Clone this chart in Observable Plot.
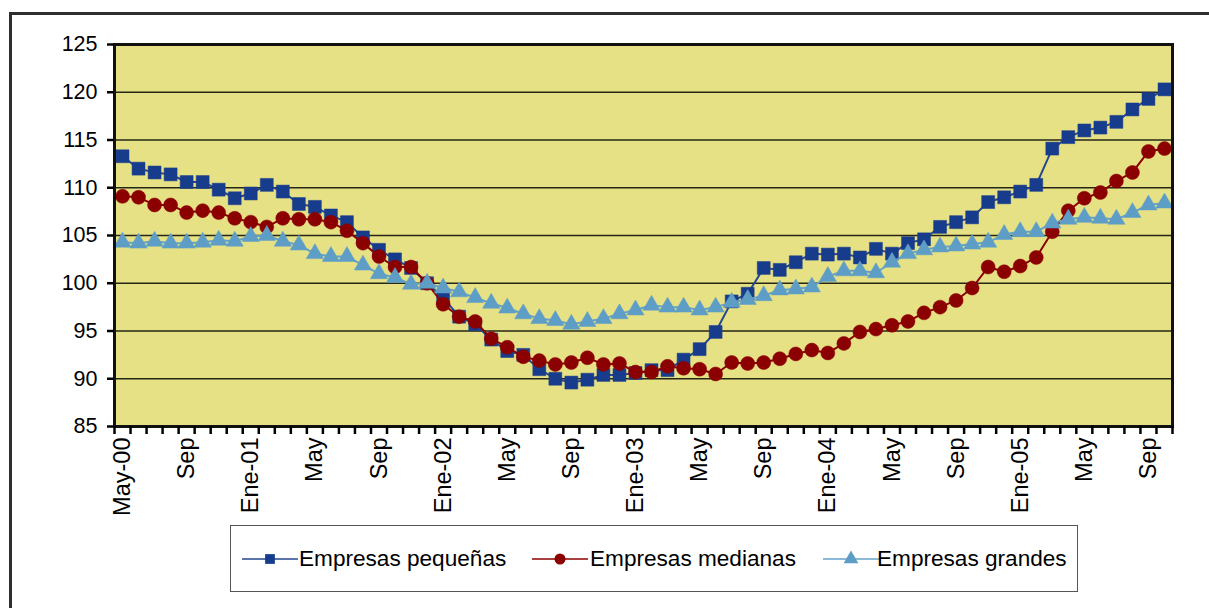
<!DOCTYPE html>
<html>
<head>
<meta charset="utf-8">
<script src="https://cdn.jsdelivr.net/npm/d3@7"></script>
<script src="https://cdn.jsdelivr.net/npm/@observablehq/plot@0.6"></script>
<style>
  html, body { margin: 0; padding: 0; background: #fff; }
  #wrap { position: relative; width: 1209px; height: 608px; overflow: hidden; font-family: "Liberation Sans", Arial, sans-serif; }
  #outer { position: absolute; left: 9px; top: 12px; width: 1260px; height: 660px; border-left: 3px solid #2e2e2e; border-top: 3px solid #2e2e2e; }
  #chart { position: absolute; left: 0; top: 0; }
  #legend { position: absolute; left: 230px; top: 525px; width: 846px; height: 65px; border: 1.5px solid #555; background: #fff; }
  .item { position: absolute; top: 0; height: 65px; display: flex; align-items: center; font-size: 22.6px; color: #000; }
  .item svg { display: block; }
</style>
</head>
<body>
<div id="wrap">
  <div id="outer"></div>
  <div id="chart"></div>
  <div id="legend"></div>
</div>
<script>
const months = [
  "May-00","Jun-00","Jul-00","Ago-00","Sep-00","Oct-00","Nov-00","Dic-00",
  "Ene-01","Feb-01","Mar-01","Abr-01","May-01","Jun-01","Jul-01","Ago-01","Sep-01","Oct-01","Nov-01","Dic-01",
  "Ene-02","Feb-02","Mar-02","Abr-02","May-02","Jun-02","Jul-02","Ago-02","Sep-02","Oct-02","Nov-02","Dic-02",
  "Ene-03","Feb-03","Mar-03","Abr-03","May-03","Jun-03","Jul-03","Ago-03","Sep-03","Oct-03","Nov-03","Dic-03",
  "Ene-04","Feb-04","Mar-04","Abr-04","May-04","Jun-04","Jul-04","Ago-04","Sep-04","Oct-04","Nov-04","Dic-04",
  "Ene-05","Feb-05","Mar-05","Abr-05","May-05","Jun-05","Jul-05","Ago-05","Sep-05","Oct-05"
];
const tickLabels = ["May-00","Sep","Ene-01","May","Sep","Ene-02","May","Sep","Ene-03","May","Sep","Ene-04","May","Sep","Ene-05","May","Sep"];
const tickMonths = ["May-00","Sep-00","Ene-01","May-01","Sep-01","Ene-02","May-02","Sep-02","Ene-03","May-03","Sep-03","Ene-04","May-04","Sep-04","Ene-05","May-05","Sep-05"];
const yTicks = [85, 90, 95, 100, 105, 110, 115, 120, 125];
const gridValues = [90, 95, 100, 105, 110, 115, 120];

const seriesNames = ["Empresas pequeñas", "Empresas medianas", "Empresas grandes"];
const pequenas = [113.3,112.0,111.6,111.4,110.6,110.6,109.8,108.9,109.4,110.3,109.6,108.3,108.0,107.1,106.4,104.8,103.5,102.5,101.6,100.0,
  98.5,96.5,95.7,94.1,92.9,92.5,91.0,90.0,89.6,89.9,90.4,90.4,90.6,90.9,90.9,92.0,93.1,94.9,98.1,98.9,
  101.6,101.4,102.2,103.1,103.0,103.1,102.7,103.6,103.1,104.2,104.6,105.9,106.4,106.9,108.5,109.0,109.6,110.3,114.1,115.3,
  116.0,116.3,116.9,118.2,119.3,120.3];
const medianas = [109.1,109.0,108.2,108.2,107.4,107.6,107.4,106.8,106.4,105.9,106.8,106.7,106.7,106.4,105.5,104.2,102.8,101.7,101.7,100.0,
  97.8,96.5,96.0,94.2,93.3,92.3,91.9,91.5,91.7,92.2,91.5,91.6,90.7,90.7,91.3,91.1,91.0,90.5,91.7,91.6,
  91.7,92.1,92.6,93.0,92.7,93.7,94.9,95.2,95.6,96.0,96.9,97.5,98.2,99.5,101.7,101.2,101.8,102.7,105.4,107.6,
  108.9,109.5,110.7,111.6,113.8,114.1];
const grandes = [104.3,104.2,104.4,104.2,104.2,104.3,104.5,104.4,104.9,105.0,104.4,104.0,103.1,102.8,102.8,101.9,101.0,100.6,99.9,100.0,
  99.5,99.1,98.5,97.9,97.4,96.8,96.3,96.1,95.7,96.0,96.3,96.8,97.2,97.7,97.5,97.5,97.2,97.5,98.0,98.3,
  98.7,99.3,99.4,99.6,100.7,101.3,101.3,101.1,102.2,103.1,103.5,103.8,103.9,104.1,104.3,105.1,105.4,105.4,106.3,106.7,
  106.9,106.8,106.7,107.4,108.2,108.4];

const colors = {"Empresas pequeñas": "#183c8c", "Empresas medianas": "#8b0000", "Empresas grandes": "#5e9ec6"};
const lineColors = {"Empresas pequeñas": "#24478f", "Empresas medianas": "#8b0000", "Empresas grandes": "#64a2c8"};
const symbols = {"Empresas pequeñas": "square", "Empresas medianas": "circle", "Empresas grandes": "triangle"};
const radii = {"Empresas pequeñas": 7.3, "Empresas medianas": 7, "Empresas grandes": 6.4};

const allValues = [pequenas, medianas, grandes];
const rows = [];
seriesNames.forEach((s, si) => {
  allValues[si].forEach((v, i) => rows.push({serie: s, idx: i, month: months[i], value: v}));
});

const boundaries = months.map((_, i) => i - 0.5).concat([months.length - 0.5]);
const labelIdx = tickMonths.map(m => months.indexOf(m));
const labelMap = new Map(labelIdx.map((k, j) => [k, tickLabels[j]]));

const marks = [
  Plot.frame({fill: "#e6e185", stroke: null}),
  Plot.ruleY(gridValues, {stroke: "#262616", strokeWidth: 1.6})
];
seriesNames.forEach(s => {
  const d = rows.filter(r => r.serie === s);
  marks.push(Plot.line(d, {x: "idx", y: "value", stroke: lineColors[s], strokeWidth: 2}));
  marks.push(Plot.dot(d, {x: "idx", y: "value", symbol: () => symbols[s], fill: colors[s], stroke: colors[s], strokeWidth: 0.5, r: radii[s]}));
});
marks.push(
  Plot.frame({stroke: "#111", strokeWidth: 3}),
  Plot.axisY({ticks: yTicks, tickSize: 7, tickPadding: 10, fontSize: 21.5, strokeWidth: 2.5, color: "#000"}),
  Plot.axisX({ticks: boundaries, tickSize: 8, tickFormat: () => "", strokeWidth: 2.5, color: "#000"}),
  Plot.axisX({ticks: labelIdx, tickSize: 0, tickRotate: -90, tickPadding: 11, fontSize: 23.5, color: "#000", tickFormat: k => labelMap.get(k)})
);

const chart = Plot.plot({
  width: 1209,
  height: 530,
  marginLeft: 114,
  marginRight: 37,
  marginTop: 44,
  marginBottom: 104,
  style: {fontFamily: "'Liberation Sans', Arial, sans-serif", background: "transparent", color: "#000"},
  x: {type: "linear", domain: [-0.5, months.length - 0.5], label: null},
  y: {domain: [85, 125], label: null},
  marks
});
document.getElementById("chart").appendChild(chart);

// Legend
const legend = document.getElementById("legend");
const legendPos = [[11, 68], [301, 359], [592, 646]];
seriesNames.forEach((s, k) => {
  const sample = document.createElement("div");
  sample.className = "item";
  sample.style.left = legendPos[k][0] + "px";
  const w = 56, h = 20;
  const svg = d3.create("svg").attr("width", w).attr("height", h);
  svg.append("line").attr("x1", 0).attr("x2", w).attr("y1", h/2).attr("y2", h/2).attr("stroke", lineColors[s]).attr("stroke-width", 1.6);
  const sym = s === "Empresas pequeñas" ? d3.symbolSquare : s === "Empresas medianas" ? d3.symbolCircle : d3.symbolTriangle;
  svg.append("path").attr("d", d3.symbol(sym, 95)()).attr("transform", `translate(${w/2},${h/2})`).attr("fill", colors[s]);
  sample.appendChild(svg.node());
  legend.appendChild(sample);
  const label = document.createElement("div");
  label.className = "item";
  label.style.left = legendPos[k][1] + "px";
  label.textContent = s;
  legend.appendChild(label);
});
</script>
</body>
</html>
